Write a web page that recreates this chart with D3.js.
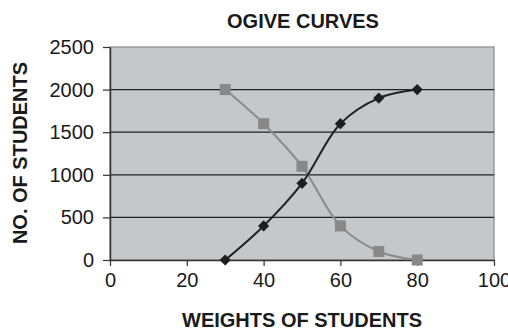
<!DOCTYPE html>
<html>
<head>
<meta charset="utf-8">
<script src="https://cdn.jsdelivr.net/npm/d3@7"></script>
<style>
  html, body { margin: 0; padding: 0; background: #fff; }
  svg { display: block; font-family: "Liberation Sans", Arial, sans-serif; }
</style>
</head>
<body>
<svg id="chart" width="508" height="333"></svg>
<script>
// Ogive data: cumulative counts of students by weight
const weights = [30, 40, 50, 60, 70, 80];
const lessThan = [0, 400, 900, 1600, 1900, 2000];
const moreThan = [2000, 1600, 1100, 400, 100, 0];
const xTicks = [0, 20, 40, 60, 80, 100];
const yTicks = [0, 500, 1000, 1500, 2000, 2500];

const svg = d3.select("#chart");
const plot = { left: 110, right: 494, top: 47, bottom: 260 };

const x = d3.scaleLinear().domain([0, 100]).range([plot.left, plot.right]);
const y = d3.scaleLinear().domain([0, 2500]).range([plot.bottom, plot.top]);

// plot area background and frame
svg.append("rect")
  .attr("x", plot.left).attr("y", plot.top)
  .attr("width", plot.right - plot.left).attr("height", plot.bottom - plot.top)
  .attr("fill", "#c6c7c9")
  .attr("stroke", "#9a9a9c").attr("stroke-width", 1.5);

// horizontal gridlines
svg.append("g").selectAll("line")
  .data(yTicks.filter(d => d > 0 && d < 2500))
  .join("line")
  .attr("x1", plot.left).attr("x2", plot.right)
  .attr("y1", d => y(d)).attr("y2", d => y(d))
  .attr("stroke", "#222").attr("stroke-width", 1.2);

// axes
const yAxis = svg.append("g")
  .attr("transform", `translate(${plot.left},0)`)
  .call(d3.axisLeft(y).tickValues(yTicks).tickFormat(d3.format("d"))
    .tickSize(7).tickPadding(9).tickSizeOuter(0));
const xAxis = svg.append("g")
  .attr("transform", `translate(0,${plot.bottom})`)
  .call(d3.axisBottom(x).tickValues(xTicks).tickFormat(d3.format("d"))
    .tickSize(6).tickPadding(7).tickSizeOuter(0));

[yAxis, xAxis].forEach(g => {
  g.select(".domain").attr("stroke", "#333").attr("stroke-width", 1.5);
  g.selectAll(".tick line").attr("stroke", "#333").attr("stroke-width", 1.2);
  g.selectAll(".tick text")
    .attr("fill", "#1a1a1a")
    .style("font-size", "20px")
    .style("font-family", "'Liberation Sans', Arial, sans-serif");
});

// smoothed series lines
const line = d3.line()
  .x(d => x(d[0])).y(d => y(d[1]))
  .curve(d3.curveCatmullRom.alpha(0.5));

const grayPts = weights.map((w, i) => [w, moreThan[i]]);
const blackPts = weights.map((w, i) => [w, lessThan[i]]);

svg.append("path").datum(grayPts)
  .attr("d", line).attr("fill", "none")
  .attr("stroke", "#8a8a8a").attr("stroke-width", 2);
svg.append("path").datum(blackPts)
  .attr("d", line).attr("fill", "none")
  .attr("stroke", "#222").attr("stroke-width", 2);

// markers
svg.append("g").selectAll("rect")
  .data(grayPts).join("rect")
  .attr("x", d => x(d[0]) - 5.5).attr("y", d => y(d[1]) - 5.5)
  .attr("width", 11).attr("height", 11)
  .attr("fill", "#888889");

const diamond = d3.symbol().type(d3.symbolDiamond2).size(80);
svg.append("g").selectAll("path")
  .data(blackPts).join("path")
  .attr("transform", d => `translate(${x(d[0])},${y(d[1])})`)
  .attr("d", diamond)
  .attr("fill", "#1e1e1e");

// titles
svg.append("text")
  .attr("x", 303).attr("y", 27.5)
  .attr("text-anchor", "middle")
  .style("font-size", "20px").style("font-weight", "bold")
  .attr("fill", "#1a1a1a")
  .text("OGIVE CURVES");

svg.append("text")
  .attr("x", 302).attr("y", 327)
  .attr("text-anchor", "middle")
  .style("font-size", "20px").style("font-weight", "bold")
  .attr("fill", "#1a1a1a")
  .text("WEIGHTS OF STUDENTS");

svg.append("text")
  .attr("transform", "translate(26.5,153) rotate(-90)")
  .attr("text-anchor", "middle")
  .style("font-size", "20px").style("font-weight", "bold")
  .attr("fill", "#1a1a1a")
  .text("NO. OF STUDENTS");
</script>
</body>
</html>
